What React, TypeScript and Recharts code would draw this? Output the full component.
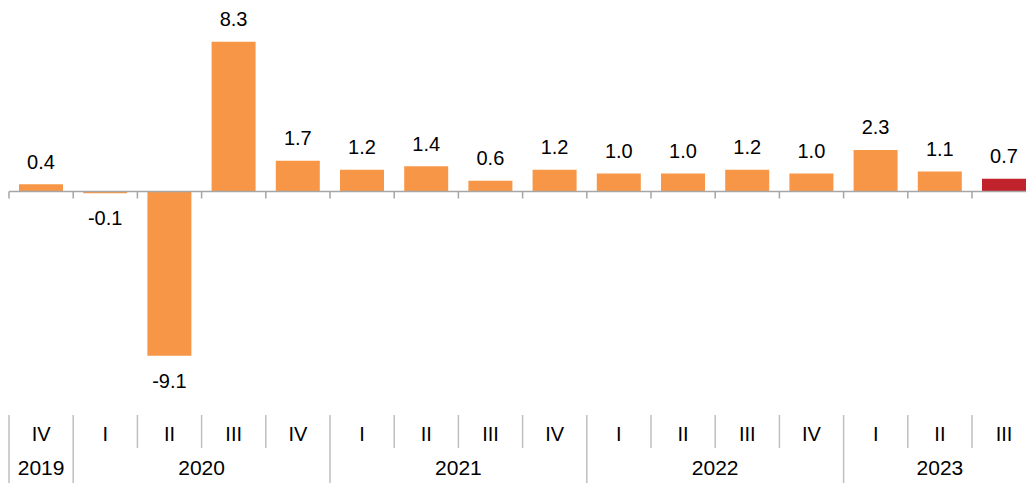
import React from "react";
import { BarChart, Bar, XAxis, YAxis, Cell, LabelList, ReferenceLine } from "recharts";

// --- data ---
const quarters = ["IV", "I", "II", "III", "IV", "I", "II", "III", "IV", "I", "II", "III", "IV", "I", "II", "III"];
const years = ["2019", "2020", "2020", "2020", "2020", "2021", "2021", "2021", "2021", "2022", "2022", "2022", "2022", "2023", "2023", "2023"];
const growth = [0.4, -0.1, -9.1, 8.3, 1.7, 1.2, 1.4, 0.6, 1.2, 1.0, 1.0, 1.2, 1.0, 2.3, 1.1, 0.7];

const data = quarters.map((q, i) => ({ key: `${years[i]}-${q}`, quarter: q, year: years[i], value: growth[i] }));

// --- look ---
const ORANGE = "#F79646";
const RED = "#C0232B";
const AXIS = "#A6A6A6";
const SEP = "#BFBFBF";
const FONT = "'Liberation Sans', Arial, sans-serif";

const W = 1040;
const H = 483;
const M = { top: 29, right: 3.8, left: 9, bottom: 0 };
const AXIS_H = 111;
const Y_MIN = -10;
const Y_MAX = 9;
const BAND = (W - M.left - M.right) / quarters.length;
const PLOT_H = H - M.top - M.bottom - AXIS_H;
const ZERO_Y = M.top + (Y_MAX / (Y_MAX - Y_MIN)) * PLOT_H;

// two-row category axis: quarter on top, year grouped below
const QuarterTick = (props: any) => {
    const { x, y, payload } = props;
    const i = payload.index;
    const left = x - BAND / 2;
    const yearStart = i === 0 || years[i] !== years[i - 1];
    const span = years.filter((yr) => yr === years[i]).length;

    return (
        <g>
            {/* small ticks on zero line */}
            <line x1={left} x2={left} y1={ZERO_Y} y2={ZERO_Y + 7} stroke={AXIS} strokeWidth={1.5} />
            <line x1={left} x2={left} y1={y + 43} y2={yearStart ? y + 111 : y + 76} stroke={SEP} strokeWidth={1.5} />
            <text x={x} y={y + 69} textAnchor="middle" fontSize={20} fontFamily={FONT} fill="#000">
                {quarters[i]}
            </text>
            {yearStart && (
                <text x={x + ((span - 1) / 2) * BAND} y={y + 103} textAnchor="middle" fontSize={21} fontFamily={FONT} fill="#000">
                    {years[i]}
                </text>
            )}
        </g>
    );
};

const ValueLabel = (props: any) => {
    const { x, y, width, height, value } = props;
    const top = Math.min(y, y + height);
    const bottom = Math.max(y, y + height);
    const ty = value >= 0 ? top - 15.5 : bottom + 32;
    return (
        <text x={x + width / 2} y={ty} textAnchor="middle" fontSize={20} fontFamily={FONT} fill="#000">
            {value.toFixed(1)}
        </text>
    );
};

export default function App() {
    return (
        <div style={{ position: "absolute", left: 0, top: 0, width: 1026, height: 483, overflow: "hidden", background: "#fff" }}>
            <BarChart width={W} height={H} data={data} margin={M} barSize={44}>
                <XAxis
                    dataKey="key"
                    axisLine={false}
                    tickLine={false}
                    tickSize={0}
                    tickMargin={0}
                    height={AXIS_H}
                    interval={0}
                    tick={(p: any) => <QuarterTick {...p} />}
                />
                <YAxis hide domain={[Y_MIN, Y_MAX]} />
                <Bar dataKey="value" isAnimationActive={false}>
                    {data.map((d, i) => (
                        <Cell key={d.key} fill={i === data.length - 1 ? RED : ORANGE} />
                    ))}
                    <LabelList dataKey="value" content={<ValueLabel />} />
                </Bar>
                <ReferenceLine y={0} stroke={AXIS} strokeWidth={1.5} />
            </BarChart>
        </div>
    );
}
